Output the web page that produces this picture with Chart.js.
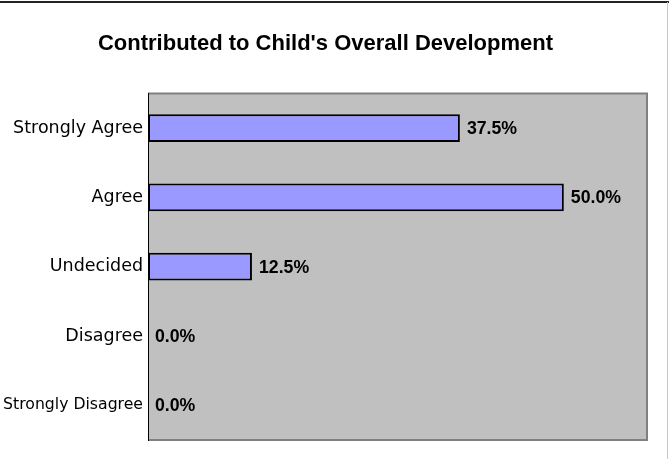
<!DOCTYPE html>
<html>
<head>
<meta charset="utf-8">
<script src="https://cdn.jsdelivr.net/npm/chart.js@4"></script>
<style>
  html, body { margin: 0; padding: 0; background: #ffffff; }
  #wrap { width: 669px; height: 459px; position: relative; }
</style>
</head>
<body>
<div id="wrap"><canvas id="c" width="669" height="459"></canvas></div>
<script>
// ---- data ----
const chartTitle = "Contributed to Child's Overall Development";
const categories = ["Strongly Agree", "Agree", "Undecided", "Disagree", "Strongly Disagree"];
const percentValues = [37.5, 50.0, 12.5, 0.0, 0.0];
const axisMin = 0;
const axisMax = 60;

// ---- plugins ----
const frameAndPlot = {
  id: 'frameAndPlot',
  beforeDraw(chart) {
    const ctx = chart.ctx;
    const a = chart.chartArea;
    ctx.save();
    ctx.fillStyle = '#ffffff';
    ctx.fillRect(0, 0, chart.width, chart.height);
    // outer frame
    ctx.strokeStyle = '#222222';
    ctx.lineWidth = 2;
    ctx.beginPath();
    ctx.moveTo(0, 2);
    ctx.lineTo(chart.width, 2);
    ctx.stroke();
    ctx.strokeStyle = '#c8c8c8';
    ctx.lineWidth = 1;
    ctx.beginPath();
    ctx.moveTo(chart.width - 1.5, 2);
    ctx.lineTo(chart.width - 1.5, chart.height);
    ctx.stroke();
    // plot area
    ctx.fillStyle = '#c0c0c0';
    ctx.fillRect(a.left, a.top, a.right - a.left, a.bottom - a.top);
    ctx.strokeStyle = '#808080';
    ctx.lineWidth = 2;
    ctx.beginPath();
    ctx.moveTo(a.left, a.top);
    ctx.lineTo(a.right, a.top);
    ctx.lineTo(a.right, a.bottom);
    ctx.lineTo(a.left, a.bottom);
    ctx.stroke();
    ctx.restore();
  }
};

const valueLabels = {
  id: 'valueLabels',
  afterDatasetsDraw(chart) {
    const ctx = chart.ctx;
    const meta = chart.getDatasetMeta(0);
    ctx.save();
    ctx.fillStyle = '#000000';
    ctx.font = 'bold 17.7px "Liberation Sans", Arial, sans-serif';
    ctx.textAlign = 'left';
    ctx.textBaseline = 'middle';
    meta.data.forEach((el, i) => {
      const v = chart.data.datasets[0].data[i];
      ctx.fillText(v.toFixed(1) + '%', el.x + 7, el.y + 1);
    });
    ctx.restore();
  }
};

new Chart(document.getElementById('c'), {
  type: 'bar',
  data: {
    labels: categories,
    datasets: [{
      data: percentValues,
      backgroundColor: '#9999ff',
      borderColor: '#000000',
      borderWidth: 2,
      borderSkipped: false,
      barPercentage: 0.4,
      categoryPercentage: 1.0
    }]
  },
  options: {
    indexAxis: 'y',
    responsive: false,
    animation: false,
    devicePixelRatio: 1,
    layout: { padding: { left: 4, right: 22, top: 0, bottom: 19 } },
    plugins: {
      legend: { display: false },
      tooltip: { enabled: false },
      title: {
        display: true,
        text: chartTitle,
        color: '#000000',
        font: { family: '"Liberation Sans", Arial, sans-serif', size: 22, weight: 'bold', lineHeight: 1.2 },
        padding: { top: 31, bottom: 36 }
      }
    },
    scales: {
      x: {
        display: false,
        min: axisMin,
        max: axisMax
      },
      y: {
        grid: { display: false, drawTicks: false },
        border: { display: true, color: '#000000', width: 1 },
        ticks: {
          color: '#000000',
          padding: 5,
          font: (c) => ({
            family: '"DejaVu Sans", sans-serif',
            size: (categories[c.index] || '').length > 15 ? 15.7 : 17.5
          })
        },
        afterFit(scale) { scale.width = 144; }
      }
    }
  },
  plugins: [frameAndPlot, valueLabels]
});
</script>
</body>
</html>
